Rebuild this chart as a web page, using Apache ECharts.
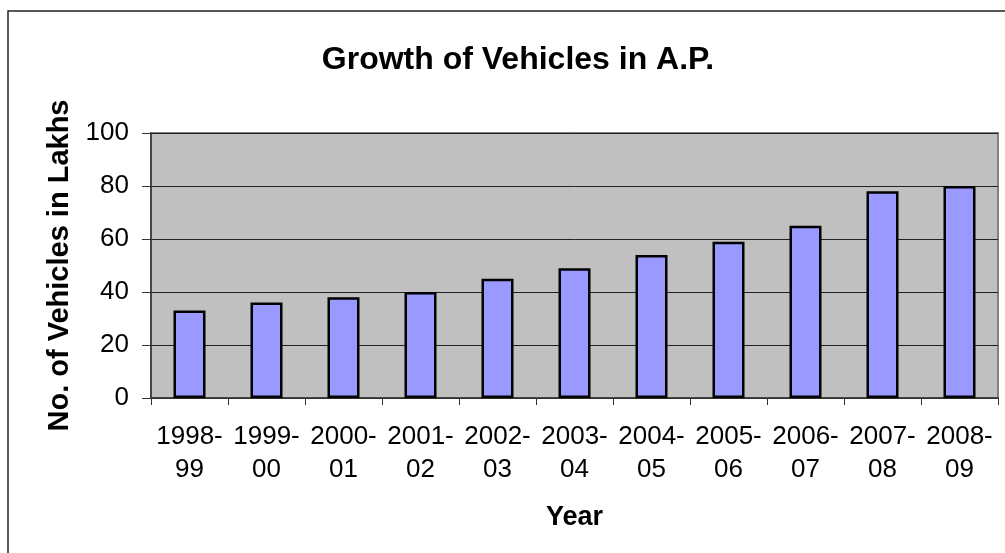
<!DOCTYPE html>
<html>
<head>
<meta charset="utf-8">
<title>Growth of Vehicles in A.P.</title>
<script src="https://cdn.jsdelivr.net/npm/echarts@6/dist/echarts.min.js"></script>
<style>
    html, body { margin: 0; padding: 0; background: #fff; }
    #vehChart { width: 1005px; height: 553px; }
</style>
</head>
<body>
<div id="vehChart"></div>
<script>
    // data
    var yearArr = ['1998-\n99', '1999-\n00', '2000-\n01', '2001-\n02', '2002-\n03', '2003-\n04',
        '2004-\n05', '2005-\n06', '2006-\n07', '2007-\n08', '2008-\n09'];
    var vehicleArr = [33, 36, 38, 40, 45, 49, 54, 59, 65, 78, 80];
    var yTicks = [0, 20, 40, 60, 80, 100];

    var fontName = 'Liberation Sans, Arial, sans-serif';

    function initChart(id) {
        var myChart = echarts.init(document.getElementById(id));
        var option = {
            backgroundColor: '#fff',
            animation: false,
            title: {
                text: 'Growth of Vehicles in A.P.',
                left: 513,
                top: 39,
                textAlign: 'center',
                textStyle: {
                    fontFamily: fontName,
                    fontSize: 32,
                    fontWeight: 'bold',
                    color: '#000'
                }
            },
            graphic: [
                {
                    // outer frame of the chart area
                    type: 'rect',
                    shape: { x: 8, y: 11, width: 1100, height: 600 },
                    style: { fill: 'none', stroke: '#222', lineWidth: 1.5 },
                    silent: true
                }
            ],
            grid: {
                left: 151,
                right: 7,
                top: 133,
                bottom: 155,
                show: true,
                backgroundColor: '#c0c0c0',
                borderColor: '#808080',
                borderWidth: 2
            },
            xAxis: {
                type: 'category',
                data: yearArr,
                name: 'Year',
                nameLocation: 'middle',
                nameGap: 106,
                nameTextStyle: {
                    fontFamily: fontName,
                    fontSize: 27,
                    fontWeight: 'bold',
                    color: '#000'
                },
                axisLine: { lineStyle: { color: '#333', width: 1.5 } },
                axisTick: { show: true, length: 7, alignWithLabel: false, lineStyle: { color: '#333' } },
                axisLabel: {
                    fontFamily: fontName,
                    fontSize: 26,
                    lineHeight: 33,
                    color: '#000',
                    margin: 22,
                    interval: 0
                }
            },
            yAxis: {
                type: 'value',
                min: yTicks[0],
                max: yTicks[yTicks.length - 1],
                interval: 20,
                name: 'No. of Vehicles in Lakhs',
                nameLocation: 'middle',
                nameGap: 76,
                nameRotate: 90,
                nameTextStyle: {
                    fontFamily: fontName,
                    fontSize: 29,
                    fontWeight: 'bold',
                    color: '#000'
                },
                axisLine: { show: true, lineStyle: { color: '#333', width: 1.5 } },
                axisTick: { show: true, length: 9, lineStyle: { color: '#333' } },
                axisLabel: {
                    fontFamily: fontName,
                    fontSize: 26,
                    color: '#000',
                    margin: 22
                },
                splitLine: {
                    show: true,
                    lineStyle: { color: '#222', width: 1 }
                }
            },
            series: []
        };
        option.series.push({
            name: 'Vehicles',
            type: 'bar',
            barWidth: 32,
            data: vehicleArr,
            itemStyle: {
                color: '#9999ff',
                borderColor: '#000',
                borderWidth: 2.5
            }
        });
        myChart.setOption(option);
    }
    initChart('vehChart');
</script>
</body>
</html>
